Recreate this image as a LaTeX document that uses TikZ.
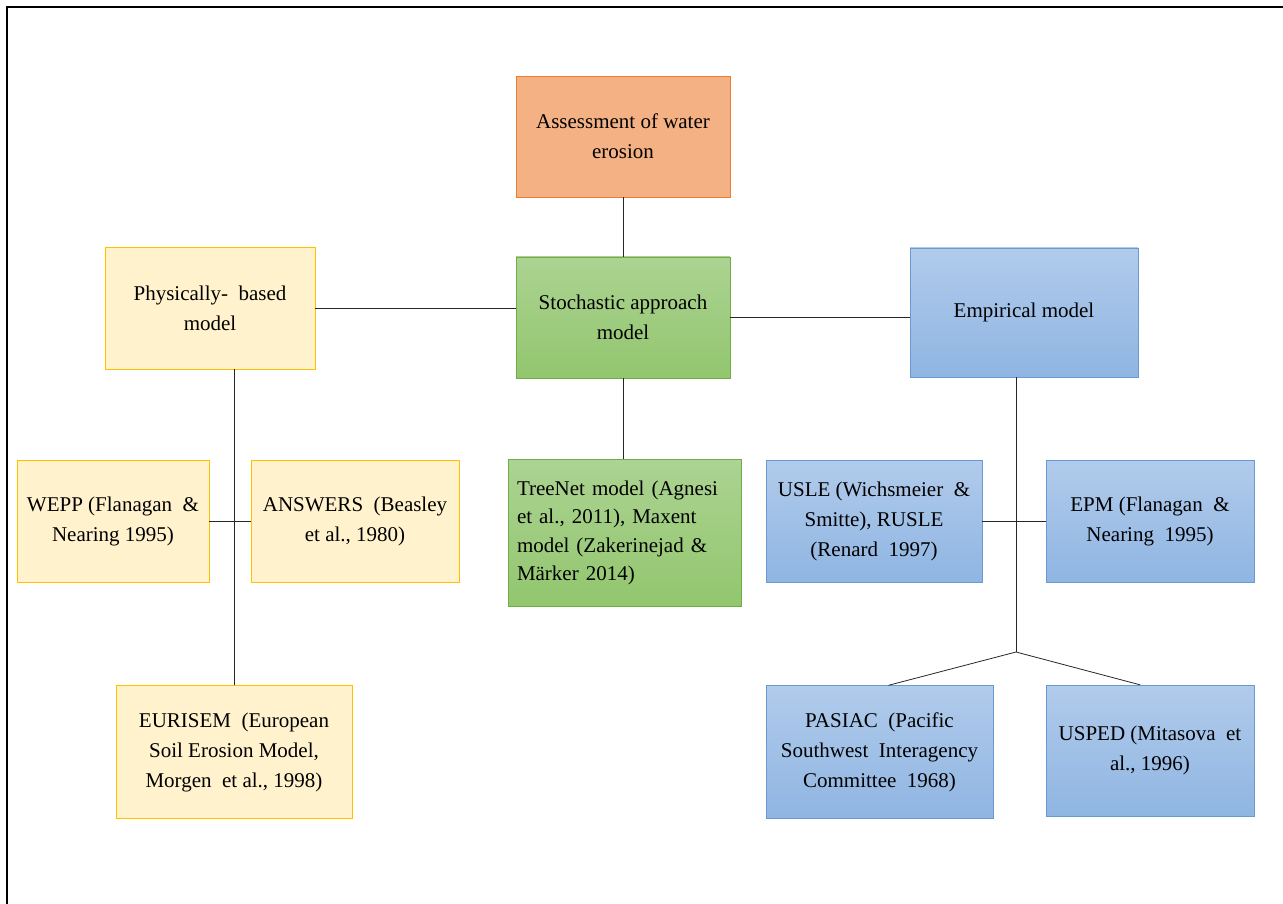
\documentclass[tikz,border=0pt]{standalone}
\usepackage{fontspec}
\setmainfont{Liberation Serif}
\usepackage{xcolor}
\usepackage{tikz}
\usetikzlibrary{calc}

\definecolor{orangefill}{RGB}{244,177,131}
\definecolor{orangeline}{RGB}{237,125,49}
\definecolor{greentop}{RGB}{172,211,146}
\definecolor{greenbot}{RGB}{146,198,110}
\definecolor{greenline}{RGB}{112,173,71}
\definecolor{yellowfill}{RGB}{255,242,204}
\definecolor{yellowline}{RGB}{255,192,0}
\definecolor{bluetop}{RGB}{177,203,235}
\definecolor{bluebot}{RGB}{143,181,226}
\definecolor{blueline}{RGB}{106,155,208}

\begin{document}
\begin{tikzpicture}[x=1pt,y=-1pt,
    box/.style={rectangle, inner sep=0pt, align=center, font=\fontsize{21}{30}\selectfont},
    orangebox/.style={box, fill=orangefill, draw=orangeline},
    greenbox/.style={box, top color=greentop, bottom color=greenbot, draw=greenline},
    yellowbox/.style={box, fill=yellowfill, draw=yellowline},
    bluebox/.style={box, top color=bluetop, bottom color=bluebot, draw=blueline},
    link/.style={draw=black!85, line width=0.8pt}]
    \useasboundingbox (0,0) rectangle (1283,904);

    % outer frame
    \draw[line width=1.8pt] (1283,7) -- (7,7) -- (7,904);

    % top level
    \node[orangebox, minimum width=214, minimum height=121] (assess) at (623,136.5) {Assessment of water\\erosion};
    \node[greenbox, minimum width=214, minimum height=121] (stoch) at (623,317.5) {Stochastic approach\\model};
    \node[yellowbox, minimum width=210, minimum height=122] (phys) at (210,308) {Physically- \ based\\model};
    \node[bluebox, minimum width=228, minimum height=129] (emp) at (1024,312.5) {Empirical model};

    % physically based models
    \node[yellowbox, minimum width=192, minimum height=122] (wepp) at (113,521) {WEPP (Flanagan \ \&\\Nearing 1995)};
    \node[yellowbox, minimum width=208, minimum height=122] (answers) at (355,521) {ANSWERS \ (Beasley\\et al., 1980)};
    \node[yellowbox, minimum width=236, minimum height=133] (eurisem) at (234,752) {EURISEM \ (European\\Soil Erosion Model,\\Morgen \ et al., 1998)};

    % stochastic models
    \node[greenbox, minimum width=233, minimum height=147, text width=215, align=left,
          font=\fontsize{21}{28.5}\selectfont] (treenet) at (624.5,533)
          {TreeNet model (Agnesi\\et al., 2011), Maxent\\model (Zakerinejad \&\\Märker 2014)};

    % empirical models
    \node[bluebox, minimum width=216, minimum height=122] (usle) at (874,521) {USLE (Wichsmeier \ \&\\Smitte), RUSLE\\(Renard \ 1997)};
    \node[bluebox, minimum width=208, minimum height=122] (epm) at (1150,521) {EPM (Flanagan \ \&\\Nearing \ 1995)};
    \node[bluebox, minimum width=227, minimum height=133] (pasiac) at (879.5,752) {PASIAC \ (Pacific\\Southwest \ Interagency\\Committee \ 1968)};
    \node[bluebox, minimum width=208, minimum height=131] (usped) at (1150,750.5) {USPED (Mitasova \ et\\al., 1996)};
    \coordinate (fork) at (1016,652);

    % connectors
    \draw[link] (assess.south) -- (stoch.north);
    \draw[link] (phys.east) -- (phys.east -| stoch.west);
    \draw[link] (stoch.east) -- (stoch.east -| emp.west);
    \draw[link] (stoch.south) -- (stoch.south |- treenet.north);
    \draw[link] (eurisem.north) -- (eurisem.north |- phys.south);
    \draw[link] (wepp.east) -- (answers.west);
    \draw[link] (usle.east) -- (epm.west);
    \draw[link] (fork) -- (fork |- emp.south);
    \draw[link] ([xshift=9pt]pasiac.north) -- (fork) -- ([xshift=-10pt]usped.north);
\end{tikzpicture}
\end{document}
